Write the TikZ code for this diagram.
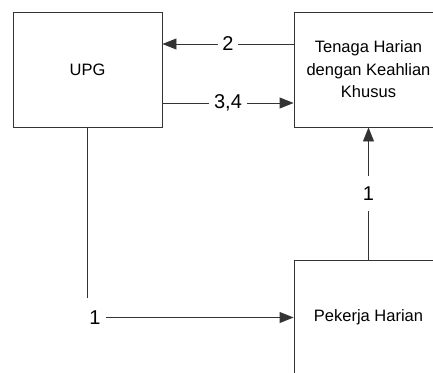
\documentclass[tikz,border=0pt]{standalone}
\usepackage{fontspec}
\setmainfont{Liberation Sans}
\usetikzlibrary{arrows.meta}
\begin{document}
\begin{tikzpicture}[x=1pt,y=-1pt,
  box/.style={draw=black!80, line width=0.9pt, minimum width=149pt, minimum height=115pt, inner sep=0pt, align=center, font=\fontsize{16.5}{22.5}\selectfont},
  conn/.style={draw=black!80, line width=0.9pt, -{Triangle[length=14pt,width=11pt]}},
  lbl/.style={fill=white, inner sep=0pt, font=\fontsize{20}{20}\selectfont, text=black}]
\useasboundingbox (0,0) rectangle (433,372);
\clip (0,0) rectangle (433,372);
\node[box] (upg) at (87.5,69.5) {UPG};
\node[box] (ten) at (368.5,69.5) {Tenaga Harian\\dengan Keahlian\\Khusus};
\node[box] (pek) at (368.5,317.5) {Pekerja Harian};
\coordinate (y2) at (0,44);
\coordinate (y34) at (0,103);
\draw[conn] (ten.west |- y2) -- (upg.east |- y2)
  node[midway, lbl, minimum width=20pt, minimum height=20pt] (l2) {2};
\draw[conn] (upg.east |- y34) -- (ten.west |- y34)
  node[midway, lbl, minimum width=38pt, minimum height=20pt] (l34) {3,4};
\draw[conn] (pek.north) -- (ten.south)
  node[midway, lbl, minimum width=14pt, minimum height=35pt] (l1a) {1};
\draw[conn] (upg.south) |- (pek.west)
  node[pos=0.5, lbl, xshift=7.5pt, minimum width=22pt, minimum height=40pt] (l1b) {1};
\end{tikzpicture}
\end{document}
